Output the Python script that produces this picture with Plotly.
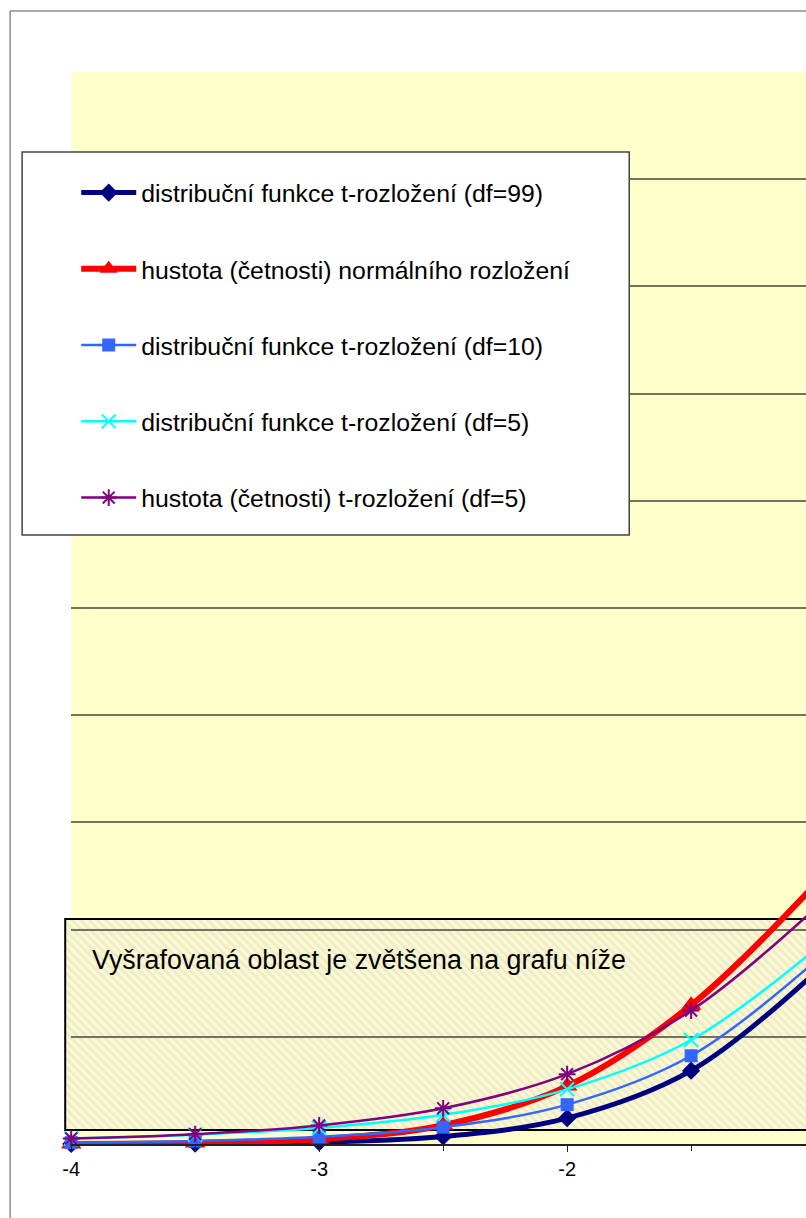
import plotly.graph_objects as go

W, H = 806, 1218

# --- data ---
x_vals = [-4, -3.5, -3, -2.5, -2, -1.5, -1]
t99_cdf = [0.0001, 0.0004, 0.0017, 0.0070, 0.0241, 0.0684, 0.1599]
norm_pdf = [0.0001, 0.0009, 0.0044, 0.0175, 0.0540, 0.1295, 0.2420]
t10_cdf = [0.0013, 0.0029, 0.0067, 0.0157, 0.0367, 0.0823, 0.1704]
t5_cdf = [0.0052, 0.0087, 0.0150, 0.0272, 0.0510, 0.0970, 0.1816]
t5_pdf = [0.0051, 0.0092, 0.0173, 0.0333, 0.0651, 0.1245, 0.2197]

names = ["distribuční funkce t-rozložení (df=99)",
         "hustota (četnosti) normálního rozložení",
         "distribuční funkce t-rozložení (df=10)",
         "distribuční funkce t-rozložení (df=5)",
         "hustota (četnosti) t-rozložení (df=5)"]
x_ticks = [-4, -3, -2]
x_tick_text = ["-4", "-3", "-2"]
y_grid = [0.1, 0.2, 0.3, 0.4, 0.5, 0.6, 0.7, 0.8, 0.9]
note = "Vyšrafovaná oblast je zvětšena na grafu níže"

FONT = "Liberation Sans, Arial, sans-serif"

# horizontal calibration of the captured picture (picture x = SX0 + SXK * page x)
SX0, SXK = 8.9, 0.987


# target picture pixel -> paper fraction
def px_x(p):
    return (p - SX0) / SXK / W


def px_y(p):
    return 1 - p / H


# plot area in picture pixels, 247.5 px per x unit
PL, PT, PB = 71, 72, 1144
UNIT = 247.5
right_px = SX0 + SXK * W

styles = [
    dict(color="#000080", width=5, symbol="diamond", size=14, mlw=0),
    dict(color="#FF0000", width=6, symbol="triangle-up", size=18, mlw=0),
    dict(color="#3366FF", width=2.5, symbol="square", size=13, mlw=0),
    dict(color="#00FFFF", width=2.5, symbol="x-thin-open", size=14, mlw=2),
    dict(color="#800080", width=2.5, symbol="asterisk-open", size=14, mlw=2),
]
series = [t99_cdf, norm_pdf, t10_cdf, t5_cdf, t5_pdf]

fig = go.Figure()

# hatched box (on a full-page helper subplot in picture pixels, under the curves)
bx0, bx1, by0, by1 = 65, 900, 919, 1130
fig.add_trace(go.Bar(
    x=[(bx0 + bx1) / 2], y=[by1 - by0], base=[by0], width=[bx1 - bx0],
    xaxis="x", yaxis="y", showlegend=False, hoverinfo="skip",
    marker=dict(color="#FAF9D2",
                pattern=dict(shape="\\", fgcolor="#E0DEBA", bgcolor="#FAF9D4",
                             size=6, solidity=0.45),
                line=dict(color="black", width=2)),
))

for i, (ys, name, st) in enumerate(zip(series, names, styles)):
    fig.add_trace(go.Scatter(
        x=x_vals, y=ys, name=name, mode="lines+markers",
        xaxis="x2", yaxis="y2", legendgroup=str(i), cliponaxis=False,
        line=dict(color=st["color"], width=st["width"], shape="spline"),
        marker=dict(symbol=st["symbol"], size=st["size"], color=st["color"],
                    line=dict(color=st["color"], width=st["mlw"])),
    ))

shapes = [
    # plot area background
    dict(type="rect", xref="paper", yref="paper", layer="below",
         x0=px_x(PL), x1=1.1, y0=px_y(PB), y1=px_y(PT),
         fillcolor="#FFFFCC", line=dict(width=0)),
    # chart outer border
    dict(type="rect", xref="paper", yref="paper", layer="below",
         x0=px_x(10), x1=px_x(1000), y0=px_y(1400), y1=px_y(11),
         line=dict(color="#555555", width=1)),
    # legend box
    dict(type="rect", xref="paper", yref="paper", layer="above",
         x0=px_x(22), x1=px_x(628), y0=px_y(535), y1=px_y(152),
         fillcolor="white", line=dict(color="#444444", width=1.5)),
]

fig.update_layout(
    width=W, height=H,
    margin=dict(l=0, r=0, t=0, b=0),
    paper_bgcolor="white", plot_bgcolor="rgba(0,0,0,0)",
    font=dict(family=FONT, color="black"),
    showlegend=True,
    legend=dict(x=px_x(76), y=px_y(170), xanchor="left", yanchor="top",
                bgcolor="rgba(0,0,0,0)", borderwidth=0,
                font=dict(size=24.8, family=FONT), itemwidth=55,
                tracegroupgap=41, traceorder="grouped"),
    xaxis=dict(domain=[0, 1], range=[SX0, right_px], visible=False, fixedrange=True),
    yaxis=dict(domain=[0, 1], range=[H, 0], visible=False, fixedrange=True),
    xaxis2=dict(domain=[px_x(PL), 1], range=[-4, -4 + (right_px - PL) / UNIT],
                anchor="y2", showgrid=False, zeroline=False,
                showline=True, linecolor="#222222", linewidth=2,
                tickvals=x_ticks, ticktext=x_tick_text,
                ticks="outside", ticklen=6, tickcolor="#222222",
                minor=dict(dtick=0.5, ticks="outside", ticklen=5, tickcolor="#222222"),
                tickfont=dict(size=20, family=FONT, color="black"),
                ticklabelstandoff=0),
    yaxis2=dict(domain=[px_y(PB), px_y(PT)], range=[0, 1], anchor="x2",
                tickvals=y_grid, showticklabels=False, ticks="",
                showgrid=True, gridcolor="#72725F", gridwidth=1.5,
                zeroline=False, showline=False),
    shapes=shapes,
    annotations=[
        dict(text=note, xref="paper", yref="paper", x=px_x(90), y=px_y(960),
             xanchor="left", yanchor="middle", showarrow=False,
             font=dict(size=26.8, family=FONT, color="black")),
        dict(text="-1", xref="paper", yref="paper", x=px_x(813), y=px_y(1168),
             xanchor="center", yanchor="middle", showarrow=False,
             font=dict(size=20, family=FONT, color="black")),
    ],
)

# drop the default page margin so the figure fills the window exactly
fig.write_html("out.html", config={"displayModeBar": False},
               post_script="document.body.style.margin='0px';")
